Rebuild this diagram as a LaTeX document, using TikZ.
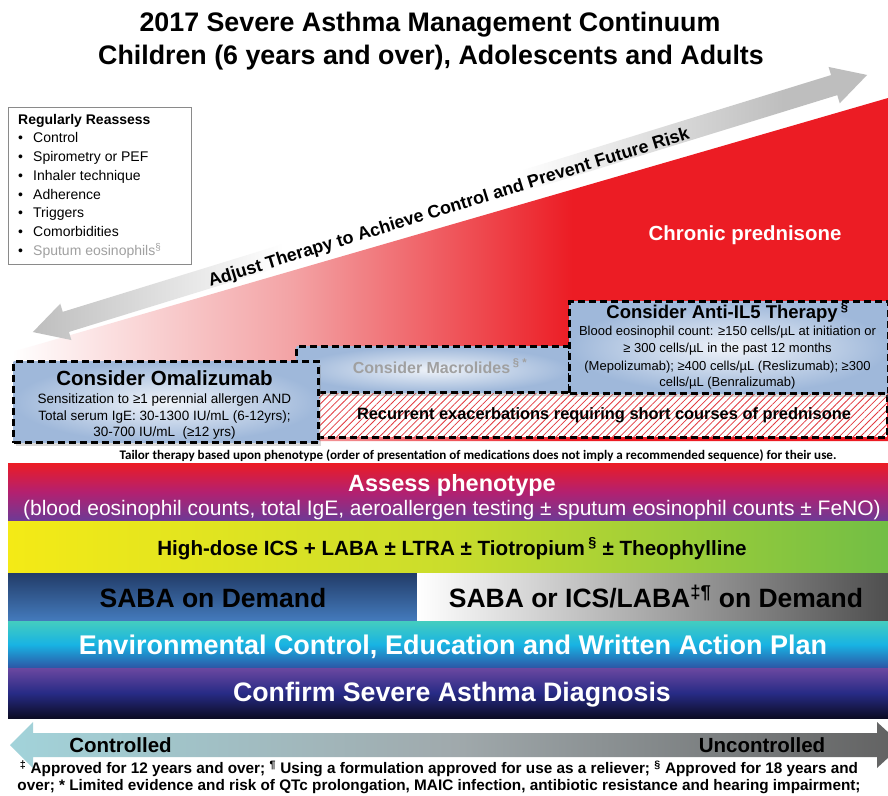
\documentclass[tikz,border=0pt]{standalone}
\usepackage{fontspec}
\setmainfont{Liberation Sans}
\newfontfamily\calib{Carlito}
\usetikzlibrary{patterns.meta,shadows}
\definecolor{myred}{HTML}{EC1C24}
\definecolor{pinkl}{HTML}{F3A3A5}
\definecolor{arrgray}{HTML}{BEBEBE}
\definecolor{boxblue}{HTML}{9FB8DA}
\definecolor{boxlight}{HTML}{EFF3F9}
\definecolor{hatchred}{HTML}{E23A3F}
\definecolor{grtext}{HTML}{A0A0A0}
\definecolor{boxedge}{HTML}{8A8A8A}
\definecolor{asstop}{HTML}{EC1C24}
\definecolor{assmid}{HTML}{B32070}
\definecolor{assbot}{HTML}{6C3B96}
\definecolor{hdleft}{HTML}{F4EA16}
\definecolor{hdmid}{HTML}{CADD2C}
\definecolor{hdright}{HTML}{72BE45}
\definecolor{sabatop}{HTML}{223C68}
\definecolor{sababot}{HTML}{447BBD}
\definecolor{sabrright}{HTML}{4F4F4F}
\definecolor{envtop}{HTML}{44CDBF}
\definecolor{envmid}{HTML}{18B3E3}
\definecolor{envbot}{HTML}{2D55A5}
\definecolor{cnftop}{HTML}{6B48A0}
\definecolor{cnfmid}{HTML}{272B86}
\definecolor{cnfbot}{HTML}{0C0C24}
\definecolor{ctlleft}{HTML}{A2D3DA}
\definecolor{ctlmid}{HTML}{A0A9AC}
\definecolor{ctlright}{HTML}{616161}
\pgfdeclarehorizontalshading{redtri}{100bp}{color(0bp)=(white); color(25bp)=(white); color(41bp)=(pinkl); color(57bp)=(myred); color(100bp)=(myred)}
\pgfdeclarehorizontalshading{grayarr}{100bp}{color(0bp)=(arrgray); color(25bp)=(arrgray); color(40bp)=(white); color(54bp)=(white); color(70bp)=(arrgray); color(100bp)=(arrgray)}
\newcommand\fsz[2]{\fontsize{#1}{#2}\selectfont}
\tikzset{
  dashbox/.style={draw=black, line width=3pt, dash pattern=on 7pt off 4pt, inner color=boxlight, outer color=boxblue, inner sep=0pt, anchor=north west, drop shadow={shadow xshift=2pt, shadow yshift=-3pt, opacity=0.3}},
  dashline/.style={draw=black, line width=3pt, dash pattern=on 7pt off 4pt},
  band/.style={inner sep=0pt, outer sep=0pt, anchor=north west},
  lbl/.style={anchor=base, inner sep=0pt},
}
\begin{document}
\begin{tikzpicture}[x=1pt,y=-1pt]
\useasboundingbox (0,0) rectangle (888,795);
\fill[white] (0,0) rectangle (888,795);
% title
\node[lbl, font=\bfseries\fsz{26.8}{32}] (t1) at (430,31.6) {2017 Severe Asthma Management Continuum};
\node[lbl, font=\bfseries\fsz{26.8}{32}] (t2) at (431,64.6) {Children (6 years and over), Adolescents and Adults};
% red triangle
\shade[shading=redtri] (12,352) -- (888,98) -- (888,441) -- (12,441) -- cycle;
% gray double arrow
\begin{scope}[shift={(450,203.5)}, rotate=17.13]
\shade[shading=grayarr] (-436.5,0) -- (-402,-19) -- (-402,-10.5) -- (402,-10.5) -- (402,-19) -- (436.5,0) -- (402,19) -- (402,10.5) -- (-402,10.5) -- (-402,19) -- cycle;
\end{scope}
\node[rotate=17.13, inner sep=0, font=\bfseries\fsz{17.8}{20}] (adj) at (449,208.5) {Adjust Therapy to Achieve Control and Prevent Future Risk};
\node[lbl, text=white, font=\bfseries\fsz{20.4}{24}] (chr) at (745,240) {Chronic prednisone};
% regularly reassess box
\node[draw=boxedge, line width=0.8pt, fill=white, anchor=north west, minimum width=183pt, minimum height=157pt, inner sep=0] (rr) at (8,107) {};
\node[anchor=base west, inner sep=0, font=\bfseries\fsz{14}{16}] (rrt) at (18,124) {Regularly Reassess};
\foreach \t [count=\i] in {Control, Spirometry or PEF, Inhaler technique, Adherence, Triggers, Comorbidities} {
  \node[anchor=base west, inner sep=0, font=\fsz{14}{16}] (rri\i) at (33,{142.7+18.8*(\i-1)}) {\t};
  \node[anchor=base west, inner sep=0, font=\fsz{14}{16}] (rrb\i) at (18,{142.7+18.8*(\i-1)}) {•};
}
\node[anchor=base west, inner sep=0, text=grtext, font=\fsz{14}{16}] (rri7) at (33,255.5) {Sputum eosinophils\textsuperscript{§}};
\node[anchor=base west, inner sep=0, font=\fsz{14}{16}] (rrb7) at (18,255.5) {•};
% hatched region
\node[band, minimum width=570pt, minimum height=46pt, fill=white, postaction={pattern={Lines[angle=45,distance=5pt,line width=0.8pt]}, pattern color=hatchred}] (hatch) at (317,391) {};
\draw[dashline] (hatch.south west) -- (hatch.south east) -- (hatch.north east);
\node[lbl, font=\bfseries\fsz{16.4}{19}] (rec) at (604,419.5) {Recurrent exacerbations requiring short courses of prednisone};
% macrolides
\node[dashbox, minimum width=273pt, minimum height=46pt] (mac) at (295,345) {};
\node[lbl, text=grtext, font=\bfseries\fsz{16}{18}] (mact) at (440,373) {Consider Macrolides\,\textsuperscript{§ *}};
% anti-IL5
\node[dashbox, minimum width=319pt, minimum height=92pt] (anti) at (568,300) {};
\node[lbl, font=\bfseries\fsz{18.5}{22}] (antt) at (727.5,318) {Consider Anti-IL5 Therapy\,\textsuperscript{§}};
\node[lbl, font=\fsz{13}{15}] (anta) at (727.5,335) {Blood eosinophil count: ≥150 cells/µL at initiation or};
\node[lbl, font=\fsz{13}{15}] (antb) at (727.5,352.5) {≥ 300 cells/µL in the past 12 months};
\node[lbl, font=\fsz{13}{15}] (antc) at (727.5,370) {(Mepolizumab); ≥400 cells/µL (Reslizumab); ≥300};
\node[lbl, font=\fsz{13}{15}] (antd) at (727.5,386.5) {cells/µL (Benralizumab)};
% omalizumab
\node[dashbox, minimum width=305pt, minimum height=81pt] (oma) at (12,360) {};
\node[lbl, font=\bfseries\fsz{20.5}{24}] (omat) at (164.5,385) {Consider Omalizumab};
\node[lbl, font=\fsz{13.5}{15}] (omaa) at (164.5,403) {Sensitization to ≥1 perennial allergen AND};
\node[lbl, font=\fsz{13.5}{15}] (omab) at (164.5,420) {Total serum IgE: 30-1300 IU/mL (6-12yrs);};
\node[lbl, font=\fsz{13.5}{15}] (omac) at (164.5,436.5) {30-700 IU/mL\ \ (≥12 yrs)};
% tailor
\node[lbl, font=\calib\bfseries\fsz{13.1}{15}] (tail) at (478,459) {Tailor therapy based upon phenotype (order of presentation of medications does not imply a recommended sequence) for their use.};
% bands
\node[band, minimum width=880pt, minimum height=58pt, top color=asstop, bottom color=assbot, middle color=assmid] (assess) at (8,463) {};
\node[lbl, text=white, font=\bfseries\fsz{23.5}{28}] (asst) at (452,491) {Assess phenotype};
\node[lbl, text=white, font=\fsz{21}{25}] (assb) at (452,515) {(blood eosinophil counts, total IgE, aeroallergen testing ± sputum eosinophil counts ± FeNO)};
\node[band, minimum width=880pt, minimum height=52pt, left color=hdleft, right color=hdright, middle color=hdmid] (hd) at (8,521) {};
\node[lbl, font=\bfseries\fsz{20.6}{24}] (hdt) at (452,555) {High-dose ICS + LABA ± LTRA ± Tiotropium\,\textsuperscript{§} ± Theophylline};
\node[band, minimum width=409pt, minimum height=48pt, top color=sabatop, bottom color=sababot] (sabl) at (8,573) {};
\node[band, minimum width=471pt, minimum height=48pt, left color=white, right color=sabrright] (sabr) at (417,573) {};
\node[lbl, font=\bfseries\fsz{26.5}{30}] (sablt) at (213,607.5) {SABA on Demand};
\node[lbl, font=\bfseries\fsz{26.5}{30}] (sabrt) at (656,607.5) {SABA or ICS/LABA\textsuperscript{‡¶} on Demand};
\node[band, minimum width=880pt, minimum height=47pt, top color=envtop, bottom color=envbot, middle color=envmid] (env) at (8,621) {};
\node[lbl, text=white, font=\bfseries\fsz{27}{30}] (envt) at (453,654.5) {Environmental Control, Education and Written Action Plan};
\node[band, minimum width=880pt, minimum height=50pt, top color=cnftop, bottom color=cnfbot, middle color=cnfmid] (cnf) at (8,668) {};
\node[lbl, text=white, font=\bfseries\fsz{26.7}{30}] (cnft) at (452,701.5) {Confirm Severe Asthma Diagnosis};
% bottom arrow
\shade[left color=ctlleft, right color=ctlright, middle color=ctlmid] (10,745) -- (33,722) -- (33,733) -- (877,733) -- (877,722) -- (902,745) -- (877,768) -- (877,757) -- (33,757) -- (33,768) -- cycle;
\node[lbl, font=\bfseries\fsz{20.5}{24}] (ctl) at (120.5,752) {Controlled};
\node[lbl, font=\bfseries\fsz{20.5}{24}] (unc) at (762,752) {Uncontrolled};
% footnotes
\node[lbl, font=\bfseries\fsz{15.3}{17}] (fn1) at (439,773.5) {\textsuperscript{‡} Approved for 12 years and over; \textsuperscript{¶} Using a formulation approved for use as a reliever; \textsuperscript{§} Approved for 18 years and};
\node[lbl, font=\bfseries\fsz{15.3}{17}] (fn2) at (439,790.5) {over; * Limited evidence and risk of QTc prolongation, MAIC infection, antibiotic resistance and hearing impairment;};
\end{tikzpicture}
\end{document}
